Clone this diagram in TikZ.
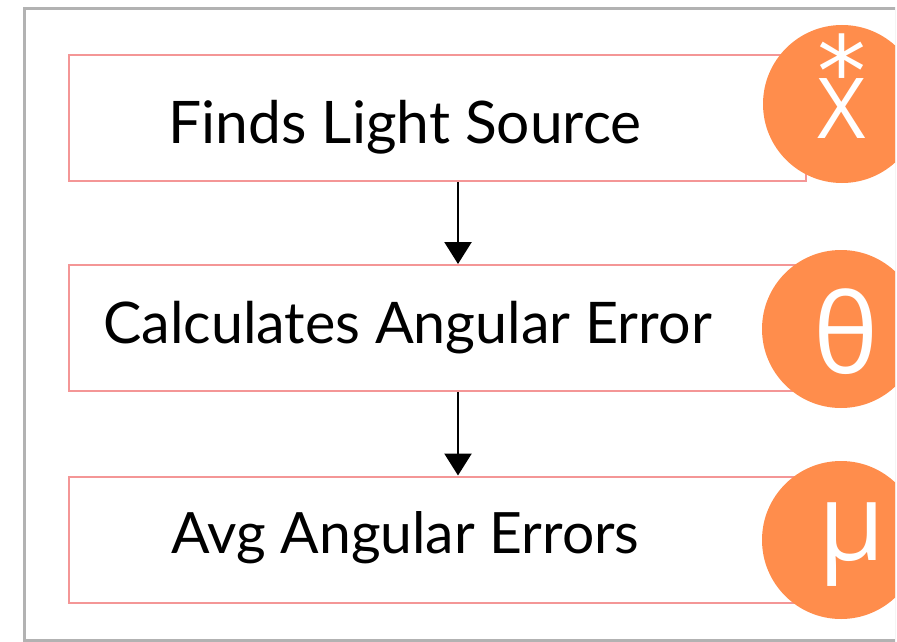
\documentclass[tikz,border=0pt]{standalone}
\usepackage{fontspec}
\setmainfont{Lato}
\newfontfamily\symfont{Open Sans}
\newfontfamily\astfont{DejaVu Sans}
\usetikzlibrary{arrows.meta}
\definecolor{framegray}{RGB}{178,178,178}
\definecolor{boxred}{RGB}{244,150,150}
\definecolor{badge}{RGB}{255,141,76}
\tikzset{
  stepbox/.style={draw=boxred, line width=2pt, fill=white, rectangle,
    minimum width=737pt, minimum height=126pt, inner sep=0pt},
  label/.style={anchor=base, inner sep=0pt},
  badgecircle/.style={fill=badge, circle, minimum size=158pt, inner sep=0pt},
  badgetext/.style={anchor=base, inner sep=0pt, text=white},
  flow/.style={line width=2.5pt, -{Triangle[width=27pt,length=22pt]}},
}
\begin{document}
\begin{tikzpicture}[x=1pt,y=-1pt]
\useasboundingbox (0,0) rectangle (897,642);
\clip (0,0) rectangle (895,642);
\fill[white] (0,0) rectangle (897,642);

% outer frame
\node[draw=framegray, line width=3pt, minimum width=872pt, minimum height=631pt,
      inner sep=0pt] (frame) at (460,324.5) {};

% step boxes
\node[stepbox] (b1) at (437.5,118) {};
\node[stepbox] (b2) at (437.5,328) {};
\node[stepbox] (b3) at (437.5,539.5) {};

% badges
\node[badgecircle] (c1) at (842,104) {};
\node[badgecircle] (c2) at (841,329) {};
\node[badgecircle] (c3) at (841,540) {};

% labels
\node[label, font=\fontsize{58.7}{60}\selectfont] (t1) at (405,143) {Finds Light Source};
\node[label, font=\fontsize{57.4}{60}\selectfont] (t2) at (407.5,343) {Calculates Angular Error};
\node[label, font=\fontsize{57}{60}\selectfont] (t3) at (405.5,553) {Avg Angular Errors};

% badge symbols: x with a star above, theta, mu
\node[badgetext, font=\symfont\fontsize{84}{84}\selectfont] (s1) at (842,138)
  {\ooalign{X\cr\hidewidth\raisebox{32pt}{\astfont\fontsize{98}{98}\selectfont *}\hidewidth\cr}};
\node[badgetext, font=\symfont\fontsize{110}{110}\selectfont] (s2) at (846.5,373) {θ};
\node[badgetext, font=\symfont\fontsize{108}{108}\selectfont] (s3) at (852,560) {μ};

% arrows between steps
\coordinate (ax) at (458,0);
\draw[flow] (b1.south -| ax) -- (b2.north -| ax);
\draw[flow] (b2.south -| ax) -- (b3.north -| ax);
\end{tikzpicture}
\end{document}
